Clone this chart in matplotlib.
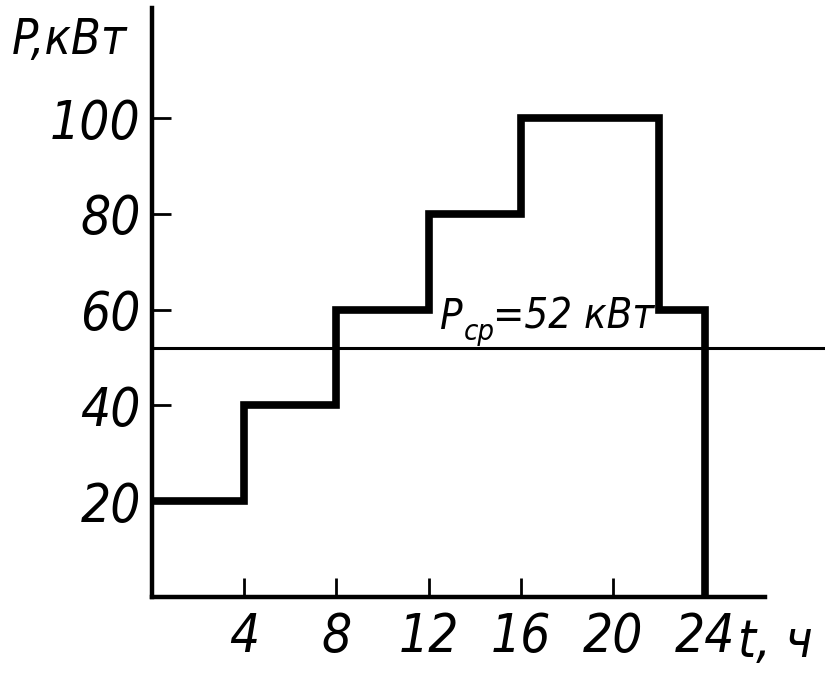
import matplotlib
matplotlib.use("Agg")
import matplotlib.pyplot as plt

# Daily load schedule
hours = [0, 4, 8, 12, 16, 22, 24]
power = [20, 40, 60, 80, 100, 60, 0]
p_avg = 52
x_ticks = [4, 8, 12, 16, 20, 24]
y_ticks = [20, 40, 60, 80, 100]

fam = ["DejaVu Sans"]
plt.rcParams["font.family"] = fam
plt.rcParams["font.stretch"] = "condensed"

W, H = 825, 675
fig = plt.figure(figsize=(W / 100, H / 100), dpi=100)
left, right, bottom, top = 152, 765, 597, 8
ax = fig.add_axes([left / W, (H - bottom) / H, (right - left) / W, (bottom - top) / H])

xmax, ymax = 26.6, 123
ax.set_xlim(0, xmax)
ax.set_ylim(0, ymax)

ax.plot(hours, power, drawstyle="steps-post", color="black", lw=5.5,
        solid_joinstyle="miter", solid_capstyle="butt", clip_on=False, zorder=3)

# average load line, running past the end of the time axis
ax.plot([0, 29.2], [p_avg, p_avg], color="black", lw=2.2, clip_on=False, zorder=2)

for s in ["top", "right"]:
    ax.spines[s].set_visible(False)
for s in ["left", "bottom"]:
    ax.spines[s].set_linewidth(3.2)

txt = dict(style="italic", stretch="condensed", family=fam)
ax.set_xticks(x_ticks)
ax.set_xticklabels([str(v) for v in x_ticks], fontsize=38, **txt)
ax.set_yticks(y_ticks)
ax.set_yticklabels([str(v) for v in y_ticks], fontsize=38, **txt)
ax.tick_params(axis="both", direction="in", length=14, width=2, color="black")
ax.tick_params(axis="x", pad=10)
ax.tick_params(axis="y", pad=8)

fig.text(12 / W, 1 - 40 / H, "P,кВт", fontsize=35, va="center", ha="left", **txt)
fig.text(738 / W, 1 - 643 / H, "t, ч", fontsize=37, va="center", ha="left", **txt)

# average-load label: P with subscript "ср", then the value
x0, y0 = 12.5, 58.5
ax.annotate("P", (x0, y0), fontsize=30, va="center", ha="left", zorder=4, **txt)
ax.annotate("ср", (x0, y0), xytext=(17, -11), textcoords="offset points",
            fontsize=21, va="center", ha="left", zorder=4, **txt)
ax.annotate(f"={p_avg} кВт", (x0, y0), xytext=(38, 0), textcoords="offset points",
            fontsize=30, va="center", ha="left", zorder=4, **txt)

fig.savefig("out.png", dpi=100, facecolor="white")
